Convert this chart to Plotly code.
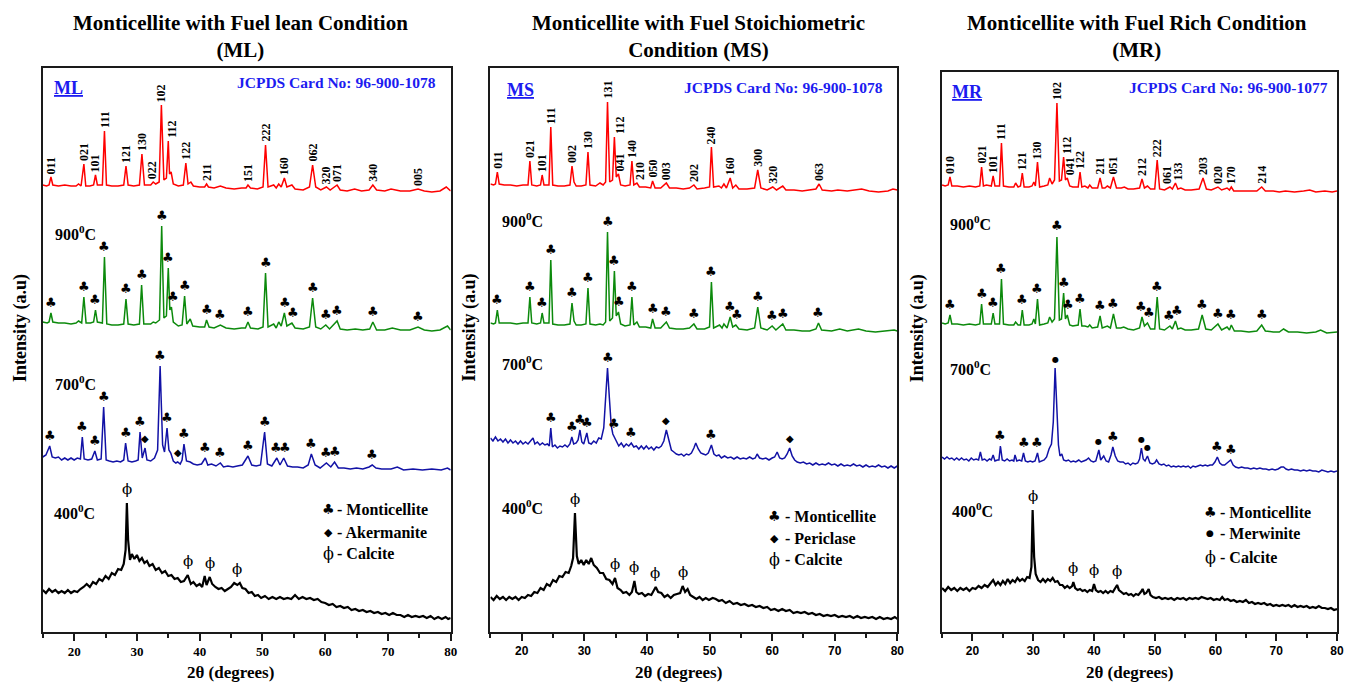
import numpy as np
import plotly.graph_objects as go

# ------------------------------------------------------------------
# XRD patterns of monticellite (2theta in degrees, intensity in a.u.)
# each pattern: list of (2theta, counts) pairs
# ------------------------------------------------------------------
two_theta_ticks = [20, 30, 40, 50, 60, 70, 80]
two_theta_minor = [15, 25, 35, 45, 55, 65, 75]

# ---------------- fuel lean (ML) ----------------
ml_pattern_400 = [
    (15.0, 30), (15.5, 27), (16.0, 31), (16.5, 28), (17.0, 30), (17.5, 27), (18.0, 29), (18.5, 27),
    (19.0, 30), (19.5, 27), (20.0, 29), (20.5, 28), (21.0, 31), (21.5, 33), (22.0, 36), (22.5, 33),
    (23.0, 38), (23.5, 36), (24.0, 41), (24.5, 39), (25.0, 44), (25.5, 41), (26.0, 47), (26.5, 45),
    (27.0, 51), (27.5, 50), (27.9, 56), (28.2, 70), (28.4, 117), (28.6, 80), (28.9, 60), (29.2, 66),
    (29.6, 61), (30.0, 65), (30.4, 59), (30.8, 62), (31.2, 57), (31.6, 59), (32.0, 54), (32.5, 56),
    (33.0, 50), (33.5, 52), (34.0, 47), (34.5, 49), (35.0, 44), (35.5, 45), (36.0, 41), (36.5, 42),
    (37.0, 38), (37.5, 39), (38.1, 45), (38.6, 36), (39.0, 38), (39.5, 34), (40.0, 36), (40.4, 33),
    (40.8, 44), (41.1, 35), (41.6, 43), (42.0, 36), (42.5, 33), (43.0, 31), (43.5, 32), (44.0, 29),
    (44.5, 31), (45.0, 33), (45.5, 37), (46.0, 35), (46.4, 37), (46.8, 32), (47.3, 31), (47.8, 27),
    (48.3, 28), (48.8, 24), (49.3, 25), (49.8, 22), (50.4, 24), (51.0, 21), (51.6, 23), (52.2, 21),
    (52.8, 23), (53.4, 21), (54.0, 22), (54.6, 21), (55.2, 25), (55.8, 21), (56.4, 23), (57.0, 21),
    (57.6, 22), (58.2, 20), (58.8, 21), (59.4, 18), (60.0, 17), (60.6, 15), (61.2, 16), (61.8, 13),
    (62.4, 14), (63.0, 12), (63.6, 13), (64.2, 10), (64.8, 11), (65.4, 9), (66.0, 10), (66.6, 8),
    (67.2, 9), (67.8, 7), (68.4, 8), (69.0, 6), (69.6, 7), (70.2, 5), (70.8, 7), (71.4, 5),
    (72.0, 5), (72.6, 3), (73.2, 5), (73.8, 3), (74.4, 4), (75.0, 3), (75.6, 4), (76.2, 2),
    (76.8, 4), (77.4, 1), (78.0, 3), (78.6, 1), (79.2, 3), (79.6, 1), (80.0, 2),
]
ml_pattern_700 = [
    (15.0, 13), (15.5, 15), (16.1, 24), (16.5, 13), (17.0, 12), (17.5, 13), (18.0, 10), (18.5, 12),
    (19.0, 10), (19.5, 12), (20.0, 10), (20.5, 12), (21.0, 11), (21.3, 33), (21.6, 11), (22.2, 10),
    (22.8, 11), (23.3, 19), (23.7, 10), (24.3, 11), (24.7, 63), (25.1, 10), (25.6, 9), (26.2, 8),
    (26.8, 9), (27.4, 8), (27.9, 10), (28.2, 27), (28.6, 9), (29.2, 8), (29.8, 9), (30.2, 10),
    (30.5, 38), (30.85, 12), (31.3, 22), (31.6, 10), (32.2, 9), (32.8, 12), (33.3, 20), (33.7, 104),
    (34.1, 25), (34.4, 18), (34.8, 42), (35.1, 20), (35.4, 17), (35.8, 9), (36.2, 7), (36.5, 8),
    (36.9, 6), (37.2, 10), (37.5, 26), (37.9, 9), (38.5, 8), (39.0, 6), (39.6, 5), (40.3, 6),
    (40.9, 12), (41.3, 5), (41.9, 6), (42.6, 4), (43.3, 7), (43.8, 3), (44.5, 4), (45.3, 3),
    (46.0, 4), (46.8, 5), (47.7, 14), (48.3, 5), (49.0, 4), (49.7, 5), (50.35, 38), (50.8, 6),
    (51.5, 4), (52.3, 12), (52.8, 5), (53.4, 12), (54.0, 4), (54.8, 3), (55.6, 3), (56.5, 2),
    (57.3, 5), (57.8, 16), (58.4, 5), (59.2, 2), (60.2, 7), (60.9, 3), (61.5, 8), (62.1, 2),
    (63.0, 2), (64.0, 1), (65.0, 2), (66.0, 1), (67.0, 3), (67.5, 5), (68.1, 2), (69.0, 1),
    (70.5, 1), (71.5, 3), (72.5, 0), (74.0, 1), (75.5, 0), (77.0, 1), (78.5, 0), (79.5, 2), (80.0, 0),
]
ml_pattern_900 = [
    (15.0, 10), (15.7, 9), (16.0, 10), (16.3, 19), (16.6, 10), (17.5, 9), (18.5, 9), (19.5, 8),
    (20.3, 9), (20.7, 11), (21.2, 9), (21.55, 35), (21.9, 9), (22.6, 9), (23.1, 10), (23.4, 22),
    (23.7, 10), (24.5, 9), (24.83, 75), (25.2, 8), (26.0, 7), (27.0, 7), (27.9, 8), (28.26, 33),
    (28.6, 8), (29.5, 7), (30.4, 8), (30.75, 47), (31.1, 8), (32.2, 8), (32.6, 10), (33.0, 9),
    (33.6, 12), (33.95, 106), (34.3, 14), (34.7, 16), (35.0, 64), (35.25, 22), (35.5, 25), (35.8, 10),
    (36.6, 6), (37.2, 7), (37.6, 36), (37.95, 8), (38.5, 13), (38.9, 6), (40.0, 5), (40.8, 5),
    (41.1, 12), (41.5, 5), (42.3, 4), (43.3, 7), (44.2, 4), (45.5, 3), (46.7, 4), (47.3, 4),
    (47.7, 10), (48.1, 4), (49.3, 3), (50.1, 5), (50.5, 59), (50.9, 5), (51.8, 8), (52.2, 4),
    (52.6, 10), (53.0, 6), (53.5, 19), (53.9, 6), (54.7, 9), (55.2, 4), (56.5, 3), (57.5, 5),
    (58.0, 34), (58.5, 5), (59.3, 3), (60.1, 7), (60.7, 3), (61.9, 11), (62.4, 3), (63.5, 2),
    (64.8, 3), (66.0, 2), (67.1, 3), (67.6, 10), (68.2, 2), (69.5, 2), (70.7, 4), (72.0, 2),
    (73.5, 2), (74.8, 5), (75.8, 2), (77.0, 1), (78.3, 2), (79.5, 6), (80.0, 2),
]
ml_pattern_ref = [
    (15.0, 7), (15.6, 6), (16.0, 7), (16.3, 15), (16.6, 7), (17.5, 6), (18.5, 7), (19.5, 6),
    (20.3, 6), (20.7, 8), (21.1, 6), (21.55, 28), (21.85, 6), (22.5, 6), (23.1, 7), (23.4, 17),
    (23.7, 7), (24.5, 7), (24.83, 61), (25.15, 7), (26.0, 6), (27.0, 6), (27.9, 7), (28.26, 26),
    (28.6, 7), (29.5, 6), (30.4, 7), (30.8, 38), (31.2, 7), (32.2, 7), (32.6, 10), (33.0, 8),
    (33.55, 10), (33.9, 87), (34.3, 12), (34.7, 14), (35.0, 51), (35.2, 18), (35.45, 20), (35.8, 8),
    (36.6, 6), (37.4, 7), (37.8, 29), (38.15, 8), (38.6, 10), (39.0, 6), (40.0, 5), (40.8, 5),
    (41.1, 8), (41.4, 5), (42.3, 4), (43.3, 6), (44.2, 4), (45.5, 3), (46.7, 4), (47.4, 4),
    (47.7, 7), (48.1, 4), (49.2, 3), (50.1, 5), (50.5, 47), (50.9, 5), (51.8, 7), (52.2, 4),
    (52.6, 8), (53.0, 5), (53.5, 14), (53.9, 5), (54.7, 7), (55.2, 3), (56.5, 2), (57.5, 5),
    (58.0, 27), (58.5, 5), (59.3, 2), (60.2, 5), (60.8, 2), (61.9, 7), (62.4, 2), (63.5, 1),
    (64.7, 3), (65.8, 1), (67.0, 2), (67.6, 7), (68.2, 2), (69.5, 1), (70.5, 3), (72.0, 1),
    (73.5, 1), (74.8, 3), (75.8, 1), (77.0, 0), (78.3, 1), (79.3, 5), (80.0, 1),
]

# ---------------- fuel stoichiometric (MS) ----------------
ms_pattern_400 = [
    (15.0, 23), (15.5, 20), (16.0, 24), (16.5, 21), (17.0, 23), (17.5, 20), (18.0, 23), (18.5, 21),
    (19.0, 23), (19.5, 20), (20.0, 23), (20.5, 22), (21.0, 25), (21.5, 24), (22.0, 28), (22.5, 27),
    (23.0, 32), (23.5, 30), (24.0, 36), (24.5, 34), (25.0, 40), (25.5, 38), (26.0, 44), (26.5, 43),
    (27.0, 48), (27.5, 47), (27.9, 54), (28.2, 62), (28.5, 107), (28.8, 64), (29.1, 56), (29.5, 60),
    (29.9, 55), (30.3, 60), (30.7, 56), (31.1, 62), (31.5, 55), (32.0, 52), (32.5, 47), (33.0, 47),
    (33.5, 41), (34.0, 40), (34.5, 36), (34.9, 42), (35.3, 32), (35.8, 30), (36.2, 27), (36.7, 28),
    (37.2, 25), (37.6, 28), (38.0, 39), (38.3, 28), (38.7, 26), (39.2, 27), (39.7, 24), (40.2, 26),
    (40.7, 25), (41.1, 30), (41.4, 33), (41.8, 28), (42.3, 27), (42.8, 23), (43.3, 25), (43.8, 22),
    (44.3, 25), (44.8, 26), (45.3, 27), (45.7, 34), (46.1, 28), (46.5, 31), (46.9, 25), (47.4, 23),
    (47.9, 21), (48.4, 23), (48.9, 20), (49.4, 22), (49.9, 20), (50.5, 22), (51.0, 21), (51.5, 19),
    (52.0, 20), (52.6, 17), (53.2, 19), (53.8, 16), (54.4, 17), (55.0, 15), (55.6, 16), (56.2, 14),
    (56.8, 15), (57.4, 13), (58.0, 14), (58.6, 12), (59.2, 13), (59.8, 10), (60.4, 11), (61.0, 9),
    (61.6, 11), (62.2, 9), (62.8, 10), (63.4, 7), (64.0, 8), (64.6, 7), (65.2, 8), (65.8, 6),
    (66.4, 7), (67.0, 5), (67.6, 6), (68.2, 4), (68.8, 5), (69.4, 4), (70.0, 5), (70.6, 3),
    (71.2, 4), (71.8, 3), (72.4, 4), (73.0, 2), (73.6, 4), (74.2, 2), (74.8, 3), (75.4, 2),
    (76.0, 3), (76.6, 1), (77.2, 3), (77.8, 1), (78.4, 2), (79.0, 1), (79.6, 3), (80.0, 1),
]
ms_pattern_700 = [
    (15.0, 30), (15.4, 27), (15.8, 31), (16.2, 27), (16.6, 29), (17.0, 26), (17.4, 29), (17.8, 25),
    (18.2, 28), (18.6, 25), (19.0, 27), (19.4, 24), (19.8, 27), (20.2, 24), (20.6, 26), (21.0, 24),
    (21.4, 27), (21.8, 30), (22.1, 24), (22.5, 26), (22.9, 23), (23.3, 25), (23.7, 23), (24.1, 24),
    (24.4, 22), (24.64, 40), (24.9, 21), (25.3, 23), (25.7, 20), (26.1, 22), (26.5, 21), (26.9, 23),
    (27.3, 21), (27.7, 24), (28.0, 31), (28.3, 24), (28.7, 25), (29.0, 28), (29.3, 38), (29.6, 26),
    (29.9, 24), (30.4, 35), (30.7, 25), (31.1, 24), (31.5, 27), (31.9, 25), (32.3, 30), (32.7, 29),
    (33.1, 40), (33.4, 70), (33.7, 100), (34.0, 70), (34.3, 42), (34.55, 34), (34.8, 31), (35.1, 27),
    (35.5, 22), (35.9, 25), (36.3, 21), (36.7, 24), (37.1, 22), (37.5, 25), (37.9, 21), (38.3, 22),
    (38.7, 19), (39.1, 22), (39.5, 19), (39.9, 22), (40.3, 19), (40.7, 21), (41.1, 18), (41.5, 21),
    (41.9, 20), (42.3, 22), (42.7, 27), (43.1, 38), (43.5, 28), (43.9, 18), (44.3, 16), (44.7, 14),
    (45.1, 13), (45.5, 14), (45.9, 12), (46.3, 14), (46.7, 13), (47.1, 15), (47.5, 20), (47.8, 25),
    (48.2, 19), (48.6, 15), (49.0, 14), (49.4, 13), (49.8, 15), (50.3, 23), (50.7, 14), (51.1, 12),
    (51.5, 13), (51.9, 10), (52.4, 12), (52.9, 10), (53.4, 11), (53.9, 9), (54.4, 11), (54.9, 9),
    (55.4, 10), (55.9, 9), (56.4, 11), (56.9, 9), (57.3, 10), (57.6, 14), (58.0, 10), (58.5, 9),
    (59.0, 10), (59.5, 8), (60.0, 10), (60.4, 11), (60.8, 16), (61.2, 10), (61.6, 9), (62.0, 10),
    (62.4, 14), (62.8, 20), (63.2, 12), (63.6, 8), (64.0, 6), (64.5, 5), (65.0, 6), (65.5, 4),
    (66.0, 5), (66.5, 3), (67.0, 5), (67.5, 3), (68.0, 4), (68.5, 3), (69.0, 5), (69.5, 3),
    (70.0, 4), (70.5, 2), (71.0, 4), (71.5, 2), (72.0, 3), (72.5, 2), (73.0, 4), (73.5, 2),
    (74.0, 3), (74.5, 1), (75.0, 3), (75.5, 1), (76.0, 2), (76.5, 1), (77.0, 3), (77.5, 1),
    (78.0, 2), (78.5, 0), (79.0, 2), (79.5, 0), (80.0, 2),
]
ms_pattern_900 = [
    (15.0, 9), (15.5, 8), (15.8, 9), (16.1, 22), (16.4, 9), (17.2, 9), (18.2, 9), (19.2, 8),
    (20.2, 9), (21.0, 9), (21.3, 35), (21.6, 9), (22.4, 8), (23.0, 9), (23.26, 19), (23.55, 9),
    (24.35, 9), (24.64, 72), (24.95, 8), (25.8, 7), (26.8, 7), (27.7, 8), (28.03, 29), (28.35, 11),
    (28.7, 7), (29.5, 7), (30.25, 8), (30.58, 44), (30.9, 8), (31.8, 7), (32.5, 8), (33.0, 7),
    (33.4, 10), (33.7, 100), (34.05, 11), (34.5, 14), (34.8, 61), (35.1, 16), (35.45, 20), (35.8, 8),
    (36.5, 6), (37.3, 7), (37.6, 35), (37.9, 7), (38.4, 10), (38.8, 5), (39.8, 5), (40.6, 4),
    (40.9, 13), (41.3, 4), (42.2, 4), (43.1, 10), (43.6, 4), (44.7, 3), (45.8, 3), (46.8, 4),
    (47.5, 8), (48.0, 3), (49.2, 3), (50.0, 5), (50.3, 50), (50.65, 4), (51.6, 7), (52.0, 4),
    (52.3, 8), (52.8, 4), (53.3, 15), (53.7, 5), (54.2, 7), (54.7, 3), (56.0, 2), (57.2, 4),
    (57.7, 25), (58.2, 4), (59.2, 2), (60.0, 6), (60.6, 2), (61.7, 8), (62.2, 2), (63.5, 2),
    (64.8, 1), (66.0, 1), (67.0, 3), (67.4, 9), (67.9, 2), (69.5, 1), (70.8, 3), (72.0, 1),
    (73.8, 3), (75.0, 1), (76.5, 0), (78.0, 1), (79.5, 2), (80.0, 1),
]
ms_pattern_ref = [
    (15.0, 8), (15.5, 7), (15.8, 8), (16.1, 20), (16.4, 8), (17.2, 7), (18.2, 7), (19.2, 6),
    (20.2, 7), (21.0, 7), (21.3, 31), (21.6, 7), (22.4, 6), (23.0, 7), (23.26, 17), (23.55, 7),
    (24.35, 7), (24.64, 65), (24.95, 7), (25.8, 6), (26.8, 6), (27.7, 7), (28.03, 26), (28.35, 10),
    (28.7, 6), (29.5, 6), (30.25, 7), (30.58, 40), (30.9, 7), (31.8, 6), (32.5, 9), (33.0, 7),
    (33.4, 10), (33.7, 90), (34.05, 10), (34.5, 12), (34.8, 55), (35.1, 15), (35.45, 18), (35.8, 7),
    (36.5, 6), (37.3, 7), (37.6, 31), (37.9, 7), (38.4, 9), (38.8, 5), (39.8, 5), (40.6, 4),
    (40.9, 11), (41.3, 4), (42.2, 4), (43.1, 9), (43.6, 4), (44.7, 4), (45.8, 3), (46.8, 4),
    (47.5, 7), (48.0, 3), (49.2, 4), (50.0, 5), (50.3, 45), (50.65, 5), (51.5, 6), (51.9, 4),
    (52.3, 8), (52.7, 4), (53.3, 14), (53.7, 4), (54.2, 7), (54.7, 3), (56.0, 3), (57.2, 4),
    (57.7, 22), (58.2, 4), (59.2, 2), (60.1, 5), (60.7, 2), (61.7, 6), (62.2, 2), (63.5, 2),
    (64.8, 1), (66.0, 2), (67.0, 3), (67.5, 8), (68.0, 2), (69.5, 1), (70.5, 2), (72.0, 1),
    (73.5, 2), (74.3, 3), (75.5, 1), (77.0, 0), (78.5, 1), (79.3, 3), (80.0, 2),
]

# ---------------- fuel rich (MR) ----------------
mr_pattern_400 = [
    (15.0, 24), (15.5, 21), (16.0, 25), (16.5, 22), (17.0, 24), (17.5, 21), (18.0, 24), (18.5, 22),
    (19.0, 24), (19.5, 21), (20.0, 24), (20.5, 23), (21.0, 26), (21.5, 24), (22.0, 27), (22.5, 25),
    (23.0, 29), (23.4, 32), (23.8, 27), (24.2, 30), (24.6, 27), (25.0, 31), (25.4, 28), (25.8, 33),
    (26.2, 29), (26.6, 32), (27.0, 30), (27.4, 34), (27.8, 31), (28.2, 33), (28.6, 31), (29.0, 35),
    (29.4, 34), (29.7, 45), (29.9, 102), (30.15, 55), (30.4, 38), (30.8, 32), (31.2, 30), (31.6, 33),
    (32.0, 30), (32.4, 33), (32.8, 31), (33.2, 34), (33.6, 30), (34.0, 31), (34.4, 27), (34.8, 27),
    (35.2, 24), (35.6, 26), (36.0, 24), (36.4, 26), (36.6, 30), (36.9, 24), (37.3, 22), (37.7, 23),
    (38.1, 21), (38.5, 22), (38.9, 20), (39.3, 22), (39.7, 21), (40.0, 28), (40.3, 22), (40.7, 20),
    (41.1, 21), (41.5, 19), (41.9, 21), (42.3, 19), (42.7, 21), (43.1, 20), (43.5, 24), (43.8, 27),
    (44.1, 22), (44.5, 20), (44.9, 18), (45.3, 19), (45.7, 17), (46.1, 18), (46.5, 16), (46.9, 18),
    (47.3, 17), (47.7, 20), (48.0, 23), (48.3, 18), (48.6, 19), (49.0, 23), (49.3, 17), (49.7, 15),
    (50.2, 14), (50.7, 15), (51.2, 13), (51.7, 14), (52.2, 13), (52.7, 14), (53.2, 12), (53.7, 14),
    (54.2, 13), (54.7, 14), (55.2, 12), (55.7, 14), (56.2, 13), (56.7, 14), (57.2, 13), (57.7, 15),
    (58.2, 14), (58.7, 13), (59.2, 14), (59.7, 12), (60.2, 13), (60.7, 12), (61.1, 15), (61.5, 12),
    (62.0, 13), (62.5, 11), (63.0, 12), (63.5, 10), (64.0, 11), (64.5, 10), (65.0, 12), (65.5, 9),
    (66.0, 10), (66.5, 8), (67.0, 9), (67.5, 8), (68.0, 9), (68.5, 7), (69.0, 8), (69.5, 6),
    (70.0, 7), (70.5, 6), (71.0, 7), (71.5, 6), (72.0, 7), (72.5, 5), (73.0, 7), (73.5, 5),
    (74.0, 6), (74.5, 5), (75.0, 6), (75.5, 4), (76.0, 5), (76.5, 4), (77.0, 6), (77.5, 4),
    (78.0, 4), (78.5, 3), (79.0, 4), (79.5, 2), (80.0, 3),
]
mr_pattern_700 = [
    (15.0, 15), (15.4, 13), (15.8, 15), (16.2, 13), (16.6, 14), (17.0, 12), (17.4, 14), (17.8, 12),
    (18.2, 14), (18.6, 12), (19.0, 13), (19.4, 11), (19.8, 14), (20.2, 12), (20.6, 13), (21.0, 12),
    (21.3, 20), (21.6, 12), (22.0, 13), (22.4, 11), (22.8, 13), (23.1, 12), (23.4, 17), (23.7, 11),
    (24.1, 12), (24.35, 12), (24.6, 26), (24.9, 12), (25.3, 11), (25.7, 13), (26.1, 11), (26.5, 12),
    (26.8, 11), (27.0, 17), (27.3, 11), (27.7, 12), (28.1, 11), (28.4, 19), (28.7, 11), (29.1, 10),
    (29.5, 11), (29.9, 10), (30.3, 11), (30.7, 19), (31.0, 10), (31.4, 11), (31.8, 12), (32.2, 15),
    (32.6, 23), (33.0, 28), (33.3, 50), (33.6, 104), (33.9, 60), (34.15, 27), (34.4, 16), (34.7, 18),
    (35.0, 12), (35.4, 11), (35.8, 12), (36.2, 10), (36.6, 11), (37.0, 10), (37.5, 12), (37.9, 10),
    (38.3, 11), (38.7, 12), (39.1, 14), (39.5, 11), (39.9, 10), (40.3, 11), (40.8, 22), (41.1, 12),
    (41.6, 16), (42.0, 11), (42.4, 10), (42.8, 17), (43.1, 25), (43.5, 16), (43.9, 11), (44.3, 10),
    (44.8, 10), (45.2, 8), (45.6, 9), (46.0, 7), (46.4, 9), (46.8, 8), (47.2, 9), (47.5, 13),
    (47.8, 24), (48.1, 13), (48.4, 11), (48.8, 16), (49.2, 9), (49.6, 8), (50.0, 9), (50.3, 12),
    (50.7, 8), (51.1, 7), (51.5, 8), (51.9, 6), (52.3, 7), (52.7, 5), (53.1, 6), (53.5, 5),
    (53.9, 6), (54.3, 5), (54.7, 6), (55.1, 5), (55.5, 6), (55.9, 4), (56.3, 6), (56.7, 5),
    (57.1, 6), (57.5, 7), (57.9, 6), (58.3, 7), (58.7, 6), (59.1, 7), (59.5, 7), (59.9, 10),
    (60.3, 15), (60.7, 9), (61.1, 7), (61.5, 7), (61.9, 9), (62.5, 12), (62.9, 7), (63.3, 5),
    (63.8, 4), (64.3, 5), (64.8, 4), (65.3, 4), (65.8, 3), (66.3, 4), (66.8, 3), (67.3, 4),
    (67.8, 3), (68.3, 3), (68.8, 2), (69.3, 3), (69.8, 2), (70.3, 3), (70.8, 5), (71.2, 5),
    (71.6, 3), (72.0, 2), (72.5, 3), (73.0, 2), (73.5, 2), (74.0, 1), (74.5, 2), (75.0, 1),
    (75.5, 2), (76.0, 1), (76.5, 1), (77.0, 0), (77.5, 2), (78.0, 1), (78.5, 0), (79.0, 1),
    (79.5, 0), (80.0, 1),
]
mr_pattern_900 = [
    (15.0, 10), (15.5, 9), (16.0, 10), (16.3, 18), (16.6, 9), (17.5, 9), (18.5, 8), (19.5, 9),
    (20.5, 8), (21.2, 9), (21.5, 29), (21.8, 9), (22.3, 9), (23.1, 9), (23.4, 20), (23.7, 9),
    (24.45, 9), (24.77, 54), (25.1, 9), (26.0, 8), (26.8, 8), (27.1, 11), (27.5, 8), (27.9, 8),
    (28.2, 23), (28.5, 8), (29.3, 8), (29.8, 9), (30.1, 14), (30.35, 9), (30.7, 34), (31.05, 8),
    (31.8, 9), (32.4, 10), (32.7, 16), (33.1, 11), (33.5, 14), (33.9, 96), (34.3, 13), (34.65, 14),
    (35.0, 40), (35.3, 14), (35.6, 18), (36.0, 8), (36.5, 7), (37.4, 8), (37.7, 24), (38.0, 7),
    (38.5, 7), (39.0, 6), (39.3, 8), (39.7, 5), (40.6, 6), (41.0, 17), (41.35, 5), (41.8, 6),
    (42.2, 7), (42.7, 5), (43.2, 19), (43.7, 5), (44.4, 5), (44.9, 6), (45.6, 4), (46.5, 3),
    (47.5, 5), (47.9, 16), (48.3, 7), (48.8, 10), (49.3, 4), (50.0, 4), (50.4, 36), (50.8, 4),
    (51.6, 3), (52.5, 7), (52.9, 4), (53.4, 12), (53.8, 4), (54.3, 5), (55.0, 3), (56.0, 3),
    (57.2, 4), (57.8, 18), (58.4, 4), (59.3, 3), (60.4, 9), (61.0, 3), (61.9, 6), (62.3, 3),
    (62.6, 8), (63.1, 2), (64.2, 2), (65.5, 1), (66.8, 2), (67.6, 8), (68.2, 2), (69.5, 1),
    (70.5, 1), (71.2, 4), (72.0, 1), (73.5, 1), (75.0, 0), (76.5, 1), (77.3, 3), (78.3, 0),
    (79.3, 1), (80.0, 1),
]
mr_pattern_ref = [
    (15.0, 7), (15.5, 6), (16.0, 7), (16.3, 15), (16.6, 6), (17.5, 6), (18.5, 5), (19.5, 6),
    (20.5, 5), (21.2, 6), (21.5, 25), (21.8, 6), (22.3, 7), (23.1, 6), (23.4, 16), (23.7, 6),
    (24.45, 6), (24.77, 49), (25.1, 6), (26.0, 5), (26.8, 5), (27.1, 9), (27.5, 5), (27.9, 6),
    (28.2, 19), (28.5, 5), (29.3, 5), (29.8, 6), (30.1, 10), (30.35, 6), (30.7, 30), (31.05, 5),
    (31.8, 6), (32.4, 7), (32.7, 14), (33.1, 8), (33.5, 12), (33.9, 89), (34.3, 11), (34.65, 12),
    (35.0, 35), (35.3, 12), (35.6, 14), (36.0, 6), (36.5, 5), (37.4, 5), (37.7, 20), (38.0, 5),
    (38.5, 6), (39.0, 4), (39.3, 7), (39.7, 4), (40.6, 4), (41.0, 14), (41.35, 4), (41.8, 4),
    (42.2, 6), (42.7, 4), (43.2, 15), (43.7, 4), (44.5, 4), (45.0, 5), (45.6, 3), (46.5, 3),
    (47.5, 4), (47.9, 13), (48.3, 4), (48.8, 6), (49.3, 3), (50.0, 3), (50.4, 32), (50.8, 3),
    (51.6, 2), (52.5, 5), (52.9, 3), (53.4, 9), (53.8, 3), (54.3, 4), (55.0, 2), (56.0, 2),
    (57.3, 3), (57.94, 14), (58.5, 3), (59.3, 2), (60.4, 5), (61.0, 2), (61.9, 4), (62.3, 2),
    (62.6, 5), (63.0, 1), (64.2, 1), (65.5, 1), (66.8, 1), (67.6, 5), (68.2, 1), (69.5, 1),
    (70.5, 0), (71.5, 1), (73.0, 0), (74.5, 1), (75.5, 2), (76.5, 0), (78.0, 1), (79.2, 0), (80.0, 1),
]

# ---------------- reflection indices (JCPDS) ----------------
ml_hkl = [(16.3, "011"), (21.55, "021"), (23.4, "101"), (24.83, "111"), (28.26, "121"),
          (30.8, "130"), (32.6, "022"), (33.9, "102"), (35.0, "112"), (37.8, "122"),
          (41.1, "211"), (47.7, "151"), (50.5, "222"), (53.5, "160"), (58.0, "062"),
          (60.2, "320"), (61.9, "071"), (67.6, "340"), (74.8, "005")]
ms_hkl = [(16.1, "011"), (21.3, "021"), (23.26, "101"), (24.64, "111"), (28.03, "002"),
          (30.58, "130"), (33.7, "131"), (34.8, "112"), (35.45, "041"), (37.6, "140"),
          (38.4, "210"), (40.9, "050"), (43.1, "003"), (47.5, "202"), (50.3, "240"),
          (53.3, "160"), (57.7, "300"), (60.1, "320"), (67.5, "063")]
mr_hkl = [(16.3, "010"), (21.5, "021"), (23.4, "101"), (24.77, "111"), (28.2, "121"),
          (30.7, "130"), (33.9, "102"), (35.0, "112"), (35.6, "041"), (37.7, "122"),
          (41.0, "211"), (43.2, "051"), (47.9, "212"), (50.4, "222"), (52.5, "061"),
          (53.4, "133"), (57.94, "203"), (60.4, "020"), (62.6, "170"), (67.6, "214")]

# ---------------- phase identification (2theta of marked reflections) ----------------
ml_monticellite_900 = [16.3, 21.55, 23.4, 24.83, 28.26, 30.75, 33.95, 35.0, 35.75, 37.6, 41.1,
                       43.3, 47.7, 50.5, 53.6, 54.9, 58.0, 60.1, 61.9, 67.6, 74.8]
ml_monticellite_700 = [16.1, 21.3, 23.3, 24.7, 28.2, 30.5, 33.7, 34.8, 37.5, 40.9, 43.3,
                       47.7, 50.35, 52.1, 53.6, 57.8, 60.2, 61.6, 67.5]
ml_akermanite_700 = [31.3, 36.5]
ml_calcite_400 = [28.4, 38.1, 41.6, 46.0]

ms_monticellite_900 = [16.1, 21.3, 23.26, 24.64, 28.03, 30.58, 33.7, 34.8, 35.5, 37.6, 40.9,
                       43.1, 47.5, 50.3, 53.2, 54.4, 57.7, 60.0, 61.7, 67.4]
ms_monticellite_700 = [24.64, 28.0, 29.3, 30.4, 33.7, 34.8, 37.5, 50.3]
ms_periclase_700 = [43.1, 62.8]
ms_calcite_400 = [28.5, 34.9, 38.0, 41.3, 45.7]

mr_monticellite_900 = [16.3, 21.5, 23.4, 24.77, 28.2, 30.7, 33.9, 35.0, 35.8, 37.7, 41.0,
                       43.2, 47.7, 49.0, 50.4, 52.3, 53.7, 57.8, 60.4, 62.6, 67.6]
mr_monticellite_700 = [24.6, 28.4, 30.7, 43.1, 60.3, 62.5]
mr_merwinite_700 = [33.6, 40.8, 47.8, 48.8]
mr_calcite_400 = [29.9, 36.6, 40.0, 43.8]

# ------------------------------------------------------------------
# figure styling
# ------------------------------------------------------------------
W, H = 1352, 685
SERIF = "Liberation Serif, Times New Roman, serif"
SANS = "Liberation Sans, Arial, sans-serif"
SYMF = "DejaVu Sans, sans-serif"
PHIF = "DejaVu Serif, serif"
RED, GREEN, BLUE, BLACK = "#ff0000", "#0c8a0c", "#1212a6", "#000000"
LINK = "#1c1cf0"

CLUB, DIAMOND, DOT, PHI = "\u2663", "\u25c6", "\u25cf", "\u03d5"

BOTTOM_PX = 632
panels = [
    dict(px=(43, 453), top=68, tickfont=SERIF,
         title="Monticellite with Fuel lean Condition<br>(ML)", title_cx=242,
         tag="ML", tag_pos=(52, 88), card="JCPDS Card No: 96-900-1078", card_pos=(440, 83),
         ytitle_x=20, xtitle_cx=232,
         patterns=[(ml_pattern_400, 12, BLACK, 2.2), (ml_pattern_700, 162, BLUE, 1.5),
                   (ml_pattern_900, 300, GREEN, 1.5), (ml_pattern_ref, 440, RED, 1.5)],
         temps=[("400", 16.4, 120), ("700", 16.6, 249), ("900", 16.6, 399)],
         hkl=ml_hkl, hkl_shift={"112": 3, "022": -1},
         marks=[(1, ml_monticellite_700, CLUB), (1, ml_akermanite_700, DIAMOND),
                (2, ml_monticellite_900, CLUB), (0, ml_calcite_400, PHI)],
         legend=[(CLUB, "- Monticellite"), (DIAMOND, "- Akermanite"), (PHI, "- Calcite")],
         legend_x=(60.5, 61.5), legend_y=[123, 100, 79]),
    dict(px=(493, 902), top=68, tickfont=SANS,
         title="Monticellite with Fuel Stoichiometric<br>Condition (MS)", title_cx=702,
         tag="MS", tag_pos=(508, 90), card="JCPDS Card No: 96-900-1078", card_pos=(890, 88),
         ytitle_x=471, xtitle_cx=682,
         patterns=[(ms_pattern_400, 12, BLACK, 2.2), (ms_pattern_700, 164, BLUE, 1.5),
                   (ms_pattern_900, 300, GREEN, 1.5), (ms_pattern_ref, 440, RED, 1.5)],
         temps=[("400", 16.6, 125), ("700", 16.6, 269), ("900", 16.6, 412)],
         hkl=ms_hkl, hkl_shift={"112": 5, "041": 2, "210": 3},
         marks=[(1, ms_monticellite_700, CLUB), (1, ms_periclase_700, DIAMOND),
                (2, ms_monticellite_900, CLUB), (0, ms_calcite_400, PHI)],
         legend=[(CLUB, "- Monticellite"), (DIAMOND, "- Periclase"), (PHI, "- Calcite")],
         legend_x=(60.45, 61.7), legend_y=[116, 94, 73]),
    dict(px=(947, 1344), top=72, tickfont=SANS,
         title="Monticellite with Fuel Rich Condition<br>(MR)", title_cx=1143,
         tag="MR", tag_pos=(955, 92), card="JCPDS Card No: 96-900-1077", card_pos=(1337, 88),
         ytitle_x=922, xtitle_cx=1135,
         patterns=[(mr_pattern_400, 20, BLACK, 2.2), (mr_pattern_700, 160, BLUE, 1.5),
                   (mr_pattern_900, 299, GREEN, 1.5), (mr_pattern_ref, 440, RED, 1.5)],
         temps=[("400", 16.3, 122), ("700", 15.9, 264), ("900", 15.9, 409)],
         hkl=mr_hkl, hkl_shift={"112": 4, "041": 3, "061": -3, "133": 3},
         marks=[(1, mr_monticellite_700, CLUB), (1, mr_merwinite_700, DOT),
                (2, mr_monticellite_900, CLUB), (0, mr_calcite_400, PHI)],
         legend=[(CLUB, "- Monticellite"), (DOT, "- Merwinite"), (PHI, "- Calcite")],
         legend_x=(59.15, 60.4), legend_y=[120, 99, 75]),
]

MARK_STYLE = {
    CLUB: dict(family=SYMF, size=13, shift=11),
    DIAMOND: dict(family=SYMF, size=10, shift=10),
    DOT: dict(family=SYMF, size=8, shift=9),
    PHI: dict(family=PHIF, size=15, shift=14),
}


def local_top(pattern, x, half=0.45):
    xs = np.array([p[0] for p in pattern], dtype=float)
    ys = np.array([p[1] for p in pattern], dtype=float)
    v = float(np.interp(x, xs, ys))
    near = ys[(xs >= x - half) & (xs <= x + half)]
    return max(v, float(near.max())) if near.size else v


fig = go.Figure()
annotations = []

for i, p in enumerate(panels, start=1):
    xs_name = "x" if i == 1 else f"x{i}"
    ys_name = "y" if i == 1 else f"y{i}"
    x0, x1 = p["px"]
    y_span = BOTTOM_PX - p["top"]

    for pattern, offset, color, width in p["patterns"]:
        fig.add_trace(go.Scatter(
            x=[pt[0] for pt in pattern], y=[pt[1] + offset for pt in pattern],
            mode="lines", line=dict(color=color, width=width),
            xaxis=xs_name, yaxis=ys_name, showlegend=False, hoverinfo="skip"))

    axis_common = dict(showline=True, mirror=True, linecolor="#1a1a1a", linewidth=1.5,
                       showgrid=False, zeroline=False)
    fig.update_layout({
        ("xaxis" if i == 1 else f"xaxis{i}"): dict(
            domain=[x0 / W, x1 / W], range=[15, 80], anchor=ys_name,
            tickvals=two_theta_ticks, ticks="outside", ticklen=7, tickwidth=1.5,
            tickcolor="#1a1a1a",
            minor=dict(tickvals=two_theta_minor, ticks="outside", ticklen=4,
                       tickwidth=1.5, tickcolor="#1a1a1a"),
            tickfont=dict(family=p["tickfont"], size=13 if i == 1 else 12,
                          color="black", weight="bold"),
            **axis_common),
        ("yaxis" if i == 1 else f"yaxis{i}"): dict(
            domain=[(H - BOTTOM_PX) / H, (H - p["top"]) / H], range=[0, y_span],
            anchor=xs_name, showticklabels=False, ticks="", **axis_common),
    })

    xr = "x" if i == 1 else f"x{i}"
    yr = "y" if i == 1 else f"y{i}"

    # panel heading
    annotations.append(dict(text=f"<b>{p['title']}</b>", xref="paper", yref="paper",
                            x=p["title_cx"] / W, y=(H - 36.5) / H, xanchor="center",
                            yanchor="middle", showarrow=False,
                            font=dict(family=SERIF, size=21, color="black")))
    # sample tag and card number
    annotations.append(dict(text=f"<b>{p['tag']}</b>", xref="paper", yref="paper",
                            x=p["tag_pos"][0] / W, y=(H - p["tag_pos"][1]) / H,
                            xanchor="left", yanchor="middle", showarrow=False,
                            font=dict(family=SERIF, size=18, color=LINK, lineposition="under")))
    annotations.append(dict(text=f"<b>{p['card']}</b>", xref="paper", yref="paper",
                            x=p["card_pos"][0] / W, y=(H - p["card_pos"][1]) / H,
                            xanchor="right", yanchor="middle", showarrow=False,
                            font=dict(family=SERIF, size=15.5, color=LINK)))
    # axis titles
    annotations.append(dict(text="<b>Intensity (a.u)</b>", xref="paper", yref="paper",
                            x=p["ytitle_x"] / W, y=(H - 328) / H, textangle=-90,
                            xanchor="center", yanchor="middle", showarrow=False,
                            font=dict(family=SERIF, size=18, color="black")))
    annotations.append(dict(text="<b>2\u03b8 (degrees)</b>", xref="paper", yref="paper",
                            x=p["xtitle_cx"] / W, y=(H - 672) / H,
                            xanchor="center", yanchor="middle", showarrow=False,
                            font=dict(family=SERIF, size=17, color="black")))

    # temperature labels
    for t, tx, ty in p["temps"]:
        annotations.append(dict(text=f"<b>{t}<sup>0</sup>C</b>", xref=xr, yref=yr,
                                x=tx, y=ty, xanchor="left", yanchor="middle",
                                showarrow=False,
                                font=dict(family=SERIF, size=16, color="black")))

    # hkl indices above the reference pattern
    ref_pattern, ref_offset = p["patterns"][3][0], p["patterns"][3][1]
    for hx, label in p["hkl"]:
        annotations.append(dict(text=f"<b>{label}</b>", xref=xr, yref=yr, x=hx,
                                y=local_top(ref_pattern, hx, 0.15) + ref_offset,
                                textangle=-90, xanchor="center", yanchor="bottom",
                                xshift=p["hkl_shift"].get(label, 0), yshift=2,
                                showarrow=False, borderpad=0,
                                font=dict(family=SERIF, size=12, color="black")))

    # phase markers
    for idx, positions, sym in p["marks"]:
        pattern, offset = p["patterns"][idx][0], p["patterns"][idx][1]
        st = MARK_STYLE[sym]
        for mx in positions:
            annotations.append(dict(text=sym, xref=xr, yref=yr, x=mx,
                                    y=local_top(pattern, mx) + offset,
                                    xanchor="center", yanchor="middle", yshift=st["shift"],
                                    showarrow=False,
                                    font=dict(family=st["family"], size=st["size"],
                                              color="black")))

    # phase key
    sx, tx = p["legend_x"]
    for (sym, label), ly in zip(p["legend"], p["legend_y"]):
        st = MARK_STYLE[sym]
        annotations.append(dict(text=sym, xref=xr, yref=yr, x=sx, y=ly,
                                xanchor="center", yanchor="middle", showarrow=False,
                                font=dict(family=st["family"], size=st["size"] + 1,
                                          color="black")))
        annotations.append(dict(text=f"<b>{label}</b>", xref=xr, yref=yr, x=tx, y=ly,
                                xanchor="left", yanchor="middle", showarrow=False,
                                font=dict(family=SERIF, size=16, color="black")))

fig.update_layout(
    width=W, height=H, margin=dict(l=0, r=0, t=0, b=0),
    paper_bgcolor="white", plot_bgcolor="white",
    annotations=annotations, showlegend=False,
)

fig.write_html("out.html")
